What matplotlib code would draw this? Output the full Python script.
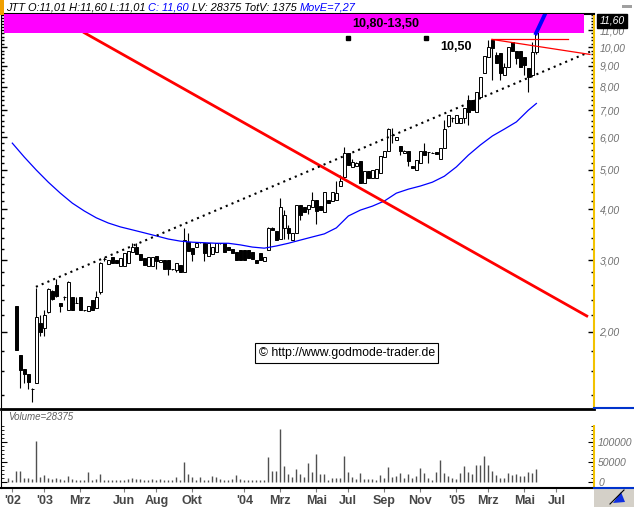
import numpy as np
import matplotlib
matplotlib.use("Agg")
import matplotlib.pyplot as plt
import matplotlib.transforms as mtransforms
from matplotlib.patches import Rectangle, Polygon
from matplotlib.lines import Line2D
from matplotlib.ticker import NullFormatter

plt.rcParams['font.family'] = ['Liberation Sans', 'DejaVu Sans']

# weekly candles (week index 2..132)
opens = [2.31, 1.76, 1.62, 1.58, 1.45, 1.50, 2.10, 2.05, 2.24, 2.52,
         2.60, 2.35, 2.44, 2.26, 2.44, 2.35, 2.44, 2.26, 2.25, 2.40,
         2.29, 2.50, 3.02, 2.94, 3.05, 3.00, 2.90, 2.90, 2.95, 3.14,
         3.24, 3.10, 3.03, 2.90, 2.90, 3.07, 2.97, 3.01, 3.01, 2.85,
         2.84, 2.92, 2.81, 3.33, 3.21, 3.24, 3.32, 3.30, 3.07, 3.10,
         3.15, 3.30, 3.30, 3.24, 3.19, 3.15, 3.17, 3.18, 3.18, 3.15,
         3.00, 3.12, 2.98, 3.17, 3.60, 3.54, 3.39, 3.59, 3.60, 3.36,
         3.50, 4.10, 4.06, 4.00, 4.04, 4.21, 4.07, 3.94, 4.21, 4.19,
         4.21, 4.56, 4.81, 5.50, 5.08, 5.10, 5.25, 4.64, 4.97, 4.76,
         4.76, 4.90, 5.37, 5.57, 6.08, 5.91, 5.72, 5.50, 5.57, 5.10,
         4.99, 5.20, 5.57, 5.53, 5.50, 5.52, 5.30, 5.64, 6.40, 6.68,
         6.52, 6.50, 6.68, 7.41, 7.41, 6.94, 7.55, 8.62, 9.47, 10.4,
         9.56, 9.65, 8.54, 8.94, 10.3, 9.79, 9.79, 9.47, 8.86, 8.54,
         9.74]
highs = [2.31, 1.76, 1.62, 1.58, 1.46, 2.57, 2.20, 2.26, 2.57, 2.53,
         2.70, 2.36, 2.45, 2.66, 2.44, 2.44, 2.44, 2.27, 2.31, 2.40,
         2.52, 2.97, 3.05, 3.00, 3.05, 3.00, 3.04, 3.12, 3.16, 3.30,
         3.31, 3.10, 3.03, 3.05, 3.05, 3.07, 3.01, 3.01, 3.01, 2.86,
         2.96, 2.92, 3.59, 3.49, 3.21, 3.31, 3.33, 3.30, 3.31, 3.24,
         3.31, 3.31, 3.30, 3.24, 3.19, 3.15, 3.17, 3.18, 3.18, 3.15,
         3.00, 3.12, 3.05, 3.62, 3.62, 3.54, 4.25, 3.98, 3.66, 3.50,
         4.10, 4.10, 4.06, 4.10, 4.40, 4.21, 4.07, 4.40, 4.21, 4.40,
         4.68, 4.85, 5.69, 5.50, 5.30, 5.23, 5.25, 4.97, 4.97, 5.00,
         5.02, 5.40, 5.57, 6.33, 6.33, 6.00, 5.72, 5.60, 5.57, 5.10,
         5.28, 5.57, 5.82, 5.53, 5.52, 5.52, 5.64, 6.62, 6.81, 6.75,
         6.81, 6.70, 7.07, 7.62, 7.41, 7.77, 8.45, 9.50, 10.4, 10.4,
         9.74, 9.65, 9.12, 10.0, 10.3, 9.79, 9.79, 9.47, 8.86, 10.3,
         11.60]
lows = [1.81, 1.46, 1.50, 1.45, 1.35, 1.50, 1.95, 1.95, 2.22, 2.40,
        2.44, 2.24, 2.39, 2.26, 2.26, 2.35, 2.26, 2.25, 2.25, 2.26,
        2.29, 2.48, 2.98, 2.94, 2.96, 2.95, 2.90, 2.90, 2.95, 3.14,
        3.10, 3.00, 2.92, 2.90, 2.90, 2.85, 2.97, 2.85, 2.76, 2.84,
        2.81, 2.80, 2.81, 3.16, 2.99, 3.24, 3.31, 2.99, 3.07, 3.10,
        3.15, 3.29, 3.15, 3.17, 3.13, 3.00, 3.01, 3.01, 3.03, 3.02,
        2.95, 3.00, 2.98, 3.17, 3.55, 3.36, 3.39, 3.39, 3.39, 3.36,
        3.50, 3.76, 3.94, 3.90, 4.04, 3.68, 3.98, 3.94, 4.14, 4.19,
        4.21, 4.56, 4.81, 5.13, 5.08, 5.10, 4.64, 4.64, 4.76, 4.76,
        4.76, 4.90, 5.37, 5.57, 5.81, 5.91, 5.43, 5.50, 5.10, 5.04,
        4.99, 5.20, 5.43, 5.18, 5.48, 5.45, 5.30, 5.64, 6.35, 6.55,
        6.52, 6.50, 6.50, 6.44, 7.00, 6.94, 7.55, 8.62, 9.47, 8.30,
        9.12, 8.30, 8.54, 8.94, 9.79, 9.10, 8.94, 8.54, 7.77, 8.54,
        9.60]
closes = [1.81, 1.61, 1.58, 1.51, 1.45, 2.18, 2.00, 2.20, 2.55, 2.41,
          2.45, 2.31, 2.44, 2.65, 2.26, 2.35, 2.26, 2.26, 2.31, 2.26,
          2.44, 2.95, 3.02, 3.00, 2.96, 2.95, 3.04, 3.12, 3.16, 3.24,
          3.10, 3.00, 2.92, 3.05, 3.05, 2.98, 3.01, 2.85, 2.85, 2.85,
          2.96, 2.80, 3.36, 3.16, 3.11, 3.31, 3.32, 3.13, 3.31, 3.24,
          3.31, 3.30, 3.15, 3.17, 3.13, 3.00, 3.01, 3.01, 3.03, 3.02,
          2.95, 3.00, 3.05, 3.59, 3.55, 3.36, 4.06, 3.87, 3.50, 3.50,
          4.10, 3.87, 3.94, 4.10, 4.21, 3.97, 3.98, 4.40, 4.14, 4.40,
          4.38, 4.69, 5.48, 5.13, 5.23, 5.20, 4.64, 4.97, 4.76, 5.00,
          5.02, 5.40, 5.57, 6.28, 6.08, 6.00, 5.57, 5.55, 5.26, 5.04,
          5.28, 5.57, 5.43, 5.53, 5.50, 5.47, 5.64, 6.28, 6.81, 6.68,
          6.81, 6.70, 7.07, 6.94, 7.00, 7.77, 8.45, 9.50, 10.0, 9.93,
          9.12, 8.62, 8.94, 10.0, 9.79, 9.38, 8.94, 9.03, 8.45, 9.74,
          11.60]

# weekly volume, week index 0..132
volume = [8000, 4000, 27000, 27000, 9000, 9000, 7000, 102000, 12000, 17000,
          9000, 6000, 9000, 7000, 4000, 14000, 7000, 3000, 3000, 3000,
          24000, 3000, 7000, 19000, 4000, 4000, 4000, 3000, 3000, 3000,
          7000, 9000, 7000, 7000, 5000, 5000, 7000, 4000, 7000, 4000,
          3000, 3000, 12000, 3000, 49000, 19000, 12000, 3000, 12000, 4000,
          3000, 14000, 12000, 7000, 4000, 4000, 7000, 17000, 7000, 4000,
          4000, 4000, 4000, 4000, 3000, 62000, 27000, 27000, 132000, 39000,
          19000, 12000, 32000, 19000, 12000, 47000, 24000, 69000, 18000, 19000,
          4000, 9000, 9000, 9000, 64000, 24000, 12000, 7000, 22000, 7000,
          7000, 7000, 4000, 17000, 9000, 37000, 12000, 14000, 22000, 9000,
          19000, 9000, 14000, 34000, 22000, 9000, 4000, 24000, 54000, 22000,
          14000, 9000, 7000, 22000, 39000, 24000, 19000, 42000, 42000, 64000,
          42000, 27000, 17000, 9000, 9000, 22000, 17000, 19000, 14000, 14000,
          24000, 22000, 32000]

# exponential moving average (MovE), read at every third week
ma_weeks = [1, 4, 7, 10, 13, 16, 19, 22, 25, 28, 31, 34, 37, 40, 43, 46, 49, 52,
            55, 58, 61, 64, 67, 70, 73, 76, 79, 82, 85, 88, 91, 94, 97, 100, 103,
            106, 109, 112, 115, 118, 121, 124, 127, 130, 132]
ma_values = [5.81, 5.37, 4.99, 4.66, 4.38, 4.14, 3.96, 3.81, 3.70, 3.62, 3.56,
             3.50, 3.44, 3.38, 3.34, 3.32, 3.31, 3.30, 3.30, 3.27, 3.23, 3.21,
             3.25, 3.30, 3.36, 3.42, 3.48, 3.60, 3.85, 3.98, 4.07, 4.19, 4.38,
             4.48, 4.56, 4.66, 4.82, 5.08, 5.43, 5.75, 6.05, 6.29, 6.55, 7.00, 7.27]

# drawn trend lines (week, price)
resist_x = [18.7, 144.9]
resist_y = [10.88, 2.18]
support_x = [6.9, 145.4]
support_y = [2.58, 9.74]
top_x = [120.85, 139.9]
top_y = [10.44, 10.44]
wedge_x = [120.85, 145.4]
wedge_y = [10.44, 9.59]
break_x = [131.7, 134.6]
break_y = [10.70, 12.3]
level_x = [84.8, 104.5]
level_y = [10.5, 10.5]
zone = (10.80, 13.50)

tick_weeks = [1, 9, 18, 29, 37, 46, 59, 68, 77, 85, 94, 103, 112, 120, 129, 137]
tick_labels = ["'02", "'03", "Mrz", "Jun", "Aug", "Okt", "'04", "Mrz", "Mai",
               "Jul", "Sep", "Nov", "'05", "Mrz", "Mai", "Jul"]
price_ticks = [2, 3, 4, 5, 6, 7, 8, 9, 10, 11]

W, H = 634, 507
fig = plt.figure(figsize=(W / 100, H / 100), dpi=100)
fig.patch.set_facecolor('white')


def box(x0, y0, x1, y1):
    return [x0 / W, 1 - y1 / H, (x1 - x0) / W, (y1 - y0) / H]


ax = fig.add_axes(box(1, 14, 594, 409))
axv = fig.add_axes(box(1, 411, 594, 488), sharex=ax)

weeks = np.arange(len(volume))
cweeks = weeks[2:]

ax.set_yscale('log')
for i, o, h, l, c in zip(cweeks, opens, highs, lows, closes):
    ax.vlines(i, l, h, color='black', lw=0.8, zorder=2)
    fill = 'white' if c >= o else 'black'
    ax.add_patch(Rectangle((i - 0.32, min(o, c)), 0.64, abs(c - o),
                           facecolor=fill, edgecolor='black', lw=0.7, zorder=3))

ax.plot(ma_weeks, ma_values, color='#0000ff', lw=0.9, zorder=4)
ax.plot(resist_x, resist_y, color='#ff0000', lw=2.0, zorder=4, solid_capstyle='butt')
ax.plot(support_x, support_y, color='black', lw=1.5, ls=(0, (1, 2)), zorder=4)
ax.plot(top_x, top_y, color='#ff0000', lw=0.9, zorder=4)
ax.plot(wedge_x, wedge_y, color='#ff0000', lw=0.9, zorder=4)

ax.add_patch(Rectangle((-1.1, zone[0]), 145.0, zone[1] - zone[0],
                       facecolor='#ff00ff', edgecolor='none', zorder=5))
ax.plot(break_x, break_y, color='#0000ff', lw=2.8, zorder=6, solid_capstyle='butt')
ax.plot(level_x, level_y, 's', color='black', ms=3.4, zorder=6)
ax.text(94.3, 11.40, '10,80-13,50', ha='center', va='center', fontsize=9,
        fontweight='bold', zorder=7)
ax.text(112, 10.0, '10,50', ha='center', va='center', fontsize=9,
        fontweight='bold', zorder=7)
ax.text(0.583, 0.142, '\u00a9 http://www.godmode-trader.de', transform=ax.transAxes,
        ha='center', va='center', fontsize=8.8, zorder=7,
        bbox=dict(boxstyle='square,pad=0.3', fc='white', ec='black', lw=0.8))

ax.set_xlim(-1.825, 146.4)
ax.set_ylim(1.294, 12.05)
ax.set_yticks(price_ticks, [f"{v:.2f}".replace('.', ',') for v in price_ticks])
ax.set_yticks(np.arange(1.4, 12.01, 0.2), minor=True)
ax.yaxis.set_minor_formatter(NullFormatter())
ax.tick_params(axis='y', which='both', direction='in', left=True, right=True,
               labelleft=False, labelright=True, color='black', pad=4)
ax.tick_params(axis='y', which='major', length=4, width=1)
ax.tick_params(axis='y', which='minor', length=2, width=1)
for t in ax.get_yticklabels():
    t.set_fontsize(7.5)
    t.set_fontstyle('italic')
    t.set_color('#707070')
ax.tick_params(axis='x', which='both', bottom=False, labelbottom=False)
ax.spines['top'].set_linewidth(1.5)
ax.spines['bottom'].set_linewidth(2)
ax.spines['right'].set_color('#f2c200')
ax.spines['right'].set_linewidth(1.5)

trans = mtransforms.blended_transform_factory(ax.transAxes, ax.transData)
ax.text(1.009, 11.60, '11,60', transform=trans, color='white', fontsize=7.5,
        fontstyle='italic', ha='left', va='center', zorder=10, clip_on=False,
        bbox=dict(boxstyle='square,pad=0.2', fc='black', ec='black'))

axv.vlines(weeks, 0, volume, color='#505050', lw=1)
axv.set_ylim(-16250, 176250)
axv.set_yticks([0, 50000, 100000], ['0', '50000', '100000'])
axv.set_yticks(np.arange(0, 140001, 10000), minor=True)
axv.tick_params(axis='y', which='both', direction='in', left=True, right=True,
                labelleft=False, labelright=True, color='black', pad=3)
axv.tick_params(axis='y', which='major', length=4)
axv.tick_params(axis='y', which='minor', length=2)
for t in axv.get_yticklabels():
    t.set_fontsize(7.5)
    t.set_fontstyle('italic')
    t.set_color('#707070')
axv.set_xticks(tick_weeks, tick_labels)
axv.tick_params(axis='x', direction='out', length=3, color='#808080', pad=2)
for t in axv.get_xticklabels():
    t.set_fontsize(9)
    t.set_fontweight('bold')
    t.set_color('#474747')
axv.spines['top'].set_visible(False)
axv.spines['bottom'].set_linewidth(1.5)
axv.spines['right'].set_color('#f2c200')
axv.spines['right'].set_linewidth(1.5)
axv.spines['right'].set_bounds(-16250, 140000)
axv.text(7 / 593, 0.92, 'Volume=28375', transform=axv.transAxes, fontsize=7,
         fontstyle='italic', color='#606060', va='center')

# header line
hdr = dict(fontsize=7.9, fontstyle='italic')
t = fig.text(6 / W, 1 - 8 / H, 'JTT O:11,01 H:11,60 L:11,01 ', va='center', **hdr)
for seg, col in [('C: 11,60', '#0000ff'), (' LV: 28375 TotV: 1375 ', 'black'),
                 ('MovE=7,27', '#0000ff')]:
    t = ax.annotate(seg, xy=(1, 0), xycoords=t, va='bottom', ha='left',
                    color=col, annotation_clip=False, **hdr)

fig.add_artist(Rectangle((0, 1 - 15 / H), 4 / W, 15 / H, transform=fig.transFigure,
                         fc='#f0a000', ec='none'))
fig.add_artist(Rectangle((622 / W, 1 - 8 / H), 10 / W, 3 / H, transform=fig.transFigure,
                         fc='#a0a0a0', ec='none'))
fig.add_artist(Line2D([594 / W, 1], [1 - 408 / H] * 2, color='#0033cc', lw=1.5))
fig.add_artist(Line2D([594 / W, 1], [1 - 488 / H] * 2, color='#0033cc', lw=1.5))
fig.add_artist(Rectangle((594 / W, 0), 40 / W, 18 / H, transform=fig.transFigure,
                         fc='#d4d0c8', ec='none'))
fig.add_artist(Polygon([[613 / W, 1 - 503 / H], [621 / W, 1 - 492 / H], [625 / W, 1 - 502 / H]],
                       closed=True, transform=fig.transFigure, fc='#1030e0', ec='none'))
fig.add_artist(Line2D([610 / W, 624 / W], [1 - 504 / H, 1 - 490 / H], color='black', lw=0.8))

fig.savefig('out.png', dpi=100)
